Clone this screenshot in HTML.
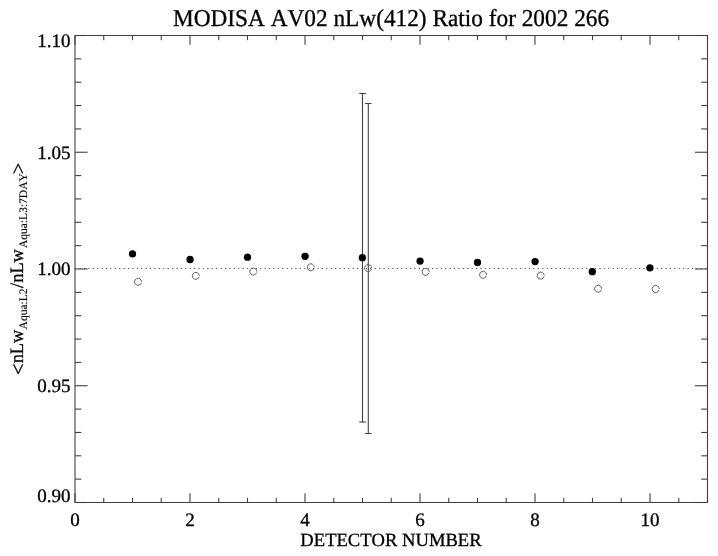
<!DOCTYPE html>
<html><head><meta charset="utf-8"><style>
html,body{margin:0;padding:0;background:#fff;}
body{width:718px;height:556px;overflow:hidden;font-family:"Liberation Serif",serif;}
svg{display:block;will-change:transform;}
text{font-kerning:none;font-feature-settings:"kern" 0;text-rendering:geometricPrecision;stroke:#000;stroke-width:0.3px;}
</style></head><body>
<svg width="718" height="556" viewBox="0 0 718 556">
<rect width="718" height="556" fill="#fff"/>
<line x1="75" y1="35.5" x2="708" y2="35.5" stroke="#404040" stroke-width="1.1"/>
<line x1="75" y1="502.5" x2="708" y2="502.5" stroke="#404040" stroke-width="1.1"/>
<line x1="75" y1="35.0" x2="75" y2="503.0" stroke="#404040" stroke-width="1.1"/>
<line x1="707.5" y1="35.0" x2="707.5" y2="503.0" stroke="#404040" stroke-width="1.1"/>
<line x1="75.0" y1="502.5" x2="75.0" y2="493.2" stroke="#404040" stroke-width="1.1"/>
<line x1="75.0" y1="35.5" x2="75.0" y2="44.8" stroke="#404040" stroke-width="1.1"/>
<line x1="103.75" y1="502.5" x2="103.75" y2="497.8" stroke="#404040" stroke-width="1.1"/>
<line x1="103.75" y1="35.5" x2="103.75" y2="40.2" stroke="#404040" stroke-width="1.1"/>
<line x1="132.5" y1="502.5" x2="132.5" y2="497.8" stroke="#404040" stroke-width="1.1"/>
<line x1="132.5" y1="35.5" x2="132.5" y2="40.2" stroke="#404040" stroke-width="1.1"/>
<line x1="161.25" y1="502.5" x2="161.25" y2="497.8" stroke="#404040" stroke-width="1.1"/>
<line x1="161.25" y1="35.5" x2="161.25" y2="40.2" stroke="#404040" stroke-width="1.1"/>
<line x1="190.0" y1="502.5" x2="190.0" y2="493.2" stroke="#404040" stroke-width="1.1"/>
<line x1="190.0" y1="35.5" x2="190.0" y2="44.8" stroke="#404040" stroke-width="1.1"/>
<line x1="218.75" y1="502.5" x2="218.75" y2="497.8" stroke="#404040" stroke-width="1.1"/>
<line x1="218.75" y1="35.5" x2="218.75" y2="40.2" stroke="#404040" stroke-width="1.1"/>
<line x1="247.5" y1="502.5" x2="247.5" y2="497.8" stroke="#404040" stroke-width="1.1"/>
<line x1="247.5" y1="35.5" x2="247.5" y2="40.2" stroke="#404040" stroke-width="1.1"/>
<line x1="276.25" y1="502.5" x2="276.25" y2="497.8" stroke="#404040" stroke-width="1.1"/>
<line x1="276.25" y1="35.5" x2="276.25" y2="40.2" stroke="#404040" stroke-width="1.1"/>
<line x1="305.0" y1="502.5" x2="305.0" y2="493.2" stroke="#404040" stroke-width="1.1"/>
<line x1="305.0" y1="35.5" x2="305.0" y2="44.8" stroke="#404040" stroke-width="1.1"/>
<line x1="333.75" y1="502.5" x2="333.75" y2="497.8" stroke="#404040" stroke-width="1.1"/>
<line x1="333.75" y1="35.5" x2="333.75" y2="40.2" stroke="#404040" stroke-width="1.1"/>
<line x1="362.5" y1="502.5" x2="362.5" y2="497.8" stroke="#404040" stroke-width="1.1"/>
<line x1="362.5" y1="35.5" x2="362.5" y2="40.2" stroke="#404040" stroke-width="1.1"/>
<line x1="391.25" y1="502.5" x2="391.25" y2="497.8" stroke="#404040" stroke-width="1.1"/>
<line x1="391.25" y1="35.5" x2="391.25" y2="40.2" stroke="#404040" stroke-width="1.1"/>
<line x1="420.0" y1="502.5" x2="420.0" y2="493.2" stroke="#404040" stroke-width="1.1"/>
<line x1="420.0" y1="35.5" x2="420.0" y2="44.8" stroke="#404040" stroke-width="1.1"/>
<line x1="448.75" y1="502.5" x2="448.75" y2="497.8" stroke="#404040" stroke-width="1.1"/>
<line x1="448.75" y1="35.5" x2="448.75" y2="40.2" stroke="#404040" stroke-width="1.1"/>
<line x1="477.5" y1="502.5" x2="477.5" y2="497.8" stroke="#404040" stroke-width="1.1"/>
<line x1="477.5" y1="35.5" x2="477.5" y2="40.2" stroke="#404040" stroke-width="1.1"/>
<line x1="506.25" y1="502.5" x2="506.25" y2="497.8" stroke="#404040" stroke-width="1.1"/>
<line x1="506.25" y1="35.5" x2="506.25" y2="40.2" stroke="#404040" stroke-width="1.1"/>
<line x1="535.0" y1="502.5" x2="535.0" y2="493.2" stroke="#404040" stroke-width="1.1"/>
<line x1="535.0" y1="35.5" x2="535.0" y2="44.8" stroke="#404040" stroke-width="1.1"/>
<line x1="563.75" y1="502.5" x2="563.75" y2="497.8" stroke="#404040" stroke-width="1.1"/>
<line x1="563.75" y1="35.5" x2="563.75" y2="40.2" stroke="#404040" stroke-width="1.1"/>
<line x1="592.5" y1="502.5" x2="592.5" y2="497.8" stroke="#404040" stroke-width="1.1"/>
<line x1="592.5" y1="35.5" x2="592.5" y2="40.2" stroke="#404040" stroke-width="1.1"/>
<line x1="621.25" y1="502.5" x2="621.25" y2="497.8" stroke="#404040" stroke-width="1.1"/>
<line x1="621.25" y1="35.5" x2="621.25" y2="40.2" stroke="#404040" stroke-width="1.1"/>
<line x1="650.0" y1="502.5" x2="650.0" y2="493.2" stroke="#404040" stroke-width="1.1"/>
<line x1="650.0" y1="35.5" x2="650.0" y2="44.8" stroke="#404040" stroke-width="1.1"/>
<line x1="678.75" y1="502.5" x2="678.75" y2="497.8" stroke="#404040" stroke-width="1.1"/>
<line x1="678.75" y1="35.5" x2="678.75" y2="40.2" stroke="#404040" stroke-width="1.1"/>
<line x1="707.5" y1="502.5" x2="707.5" y2="497.8" stroke="#404040" stroke-width="1.1"/>
<line x1="707.5" y1="35.5" x2="707.5" y2="40.2" stroke="#404040" stroke-width="1.1"/>
<line x1="75" y1="35.50" x2="87.6" y2="35.50" stroke="#404040" stroke-width="1.1"/>
<line x1="707.5" y1="35.50" x2="694.9" y2="35.50" stroke="#404040" stroke-width="1.1"/>
<line x1="75" y1="58.85" x2="81.3" y2="58.85" stroke="#404040" stroke-width="1.1"/>
<line x1="707.5" y1="58.85" x2="701.2" y2="58.85" stroke="#404040" stroke-width="1.1"/>
<line x1="75" y1="82.20" x2="81.3" y2="82.20" stroke="#404040" stroke-width="1.1"/>
<line x1="707.5" y1="82.20" x2="701.2" y2="82.20" stroke="#404040" stroke-width="1.1"/>
<line x1="75" y1="105.55" x2="81.3" y2="105.55" stroke="#404040" stroke-width="1.1"/>
<line x1="707.5" y1="105.55" x2="701.2" y2="105.55" stroke="#404040" stroke-width="1.1"/>
<line x1="75" y1="128.90" x2="81.3" y2="128.90" stroke="#404040" stroke-width="1.1"/>
<line x1="707.5" y1="128.90" x2="701.2" y2="128.90" stroke="#404040" stroke-width="1.1"/>
<line x1="75" y1="152.25" x2="87.6" y2="152.25" stroke="#404040" stroke-width="1.1"/>
<line x1="707.5" y1="152.25" x2="694.9" y2="152.25" stroke="#404040" stroke-width="1.1"/>
<line x1="75" y1="175.60" x2="81.3" y2="175.60" stroke="#404040" stroke-width="1.1"/>
<line x1="707.5" y1="175.60" x2="701.2" y2="175.60" stroke="#404040" stroke-width="1.1"/>
<line x1="75" y1="198.95" x2="81.3" y2="198.95" stroke="#404040" stroke-width="1.1"/>
<line x1="707.5" y1="198.95" x2="701.2" y2="198.95" stroke="#404040" stroke-width="1.1"/>
<line x1="75" y1="222.30" x2="81.3" y2="222.30" stroke="#404040" stroke-width="1.1"/>
<line x1="707.5" y1="222.30" x2="701.2" y2="222.30" stroke="#404040" stroke-width="1.1"/>
<line x1="75" y1="245.65" x2="81.3" y2="245.65" stroke="#404040" stroke-width="1.1"/>
<line x1="707.5" y1="245.65" x2="701.2" y2="245.65" stroke="#404040" stroke-width="1.1"/>
<line x1="75" y1="269.00" x2="87.6" y2="269.00" stroke="#404040" stroke-width="1.1"/>
<line x1="707.5" y1="269.00" x2="694.9" y2="269.00" stroke="#404040" stroke-width="1.1"/>
<line x1="75" y1="292.35" x2="81.3" y2="292.35" stroke="#404040" stroke-width="1.1"/>
<line x1="707.5" y1="292.35" x2="701.2" y2="292.35" stroke="#404040" stroke-width="1.1"/>
<line x1="75" y1="315.70" x2="81.3" y2="315.70" stroke="#404040" stroke-width="1.1"/>
<line x1="707.5" y1="315.70" x2="701.2" y2="315.70" stroke="#404040" stroke-width="1.1"/>
<line x1="75" y1="339.05" x2="81.3" y2="339.05" stroke="#404040" stroke-width="1.1"/>
<line x1="707.5" y1="339.05" x2="701.2" y2="339.05" stroke="#404040" stroke-width="1.1"/>
<line x1="75" y1="362.40" x2="81.3" y2="362.40" stroke="#404040" stroke-width="1.1"/>
<line x1="707.5" y1="362.40" x2="701.2" y2="362.40" stroke="#404040" stroke-width="1.1"/>
<line x1="75" y1="385.75" x2="87.6" y2="385.75" stroke="#404040" stroke-width="1.1"/>
<line x1="707.5" y1="385.75" x2="694.9" y2="385.75" stroke="#404040" stroke-width="1.1"/>
<line x1="75" y1="409.10" x2="81.3" y2="409.10" stroke="#404040" stroke-width="1.1"/>
<line x1="707.5" y1="409.10" x2="701.2" y2="409.10" stroke="#404040" stroke-width="1.1"/>
<line x1="75" y1="432.45" x2="81.3" y2="432.45" stroke="#404040" stroke-width="1.1"/>
<line x1="707.5" y1="432.45" x2="701.2" y2="432.45" stroke="#404040" stroke-width="1.1"/>
<line x1="75" y1="455.80" x2="81.3" y2="455.80" stroke="#404040" stroke-width="1.1"/>
<line x1="707.5" y1="455.80" x2="701.2" y2="455.80" stroke="#404040" stroke-width="1.1"/>
<line x1="75" y1="479.15" x2="81.3" y2="479.15" stroke="#404040" stroke-width="1.1"/>
<line x1="707.5" y1="479.15" x2="701.2" y2="479.15" stroke="#404040" stroke-width="1.1"/>
<line x1="75" y1="502.50" x2="87.6" y2="502.50" stroke="#404040" stroke-width="1.1"/>
<line x1="707.5" y1="502.50" x2="694.9" y2="502.50" stroke="#404040" stroke-width="1.1"/>
<line x1="75.076" y1="268.5" x2="707" y2="268.5" stroke="#505050" stroke-width="1" stroke-dasharray="1.2 3.206"/>
<line x1="362.5" y1="93.5" x2="362.5" y2="422.0" stroke="#404040" stroke-width="1.1"/>
<line x1="359.2" y1="93.5" x2="365.8" y2="93.5" stroke="#404040" stroke-width="1.1"/>
<line x1="359.2" y1="422.0" x2="365.8" y2="422.0" stroke="#404040" stroke-width="1.1"/>
<line x1="368.3" y1="103.5" x2="368.3" y2="433.5" stroke="#404040" stroke-width="1.1"/>
<line x1="365.05" y1="103.5" x2="371.55" y2="103.5" stroke="#404040" stroke-width="1.1"/>
<line x1="365.05" y1="433.5" x2="371.55" y2="433.5" stroke="#404040" stroke-width="1.1"/>
<circle cx="132.5" cy="253.9" r="3.65" fill="#000"/>
<circle cx="190.07" cy="259.5" r="3.65" fill="#000"/>
<circle cx="247.5" cy="257.2" r="3.65" fill="#000"/>
<circle cx="305.07" cy="256.35" r="3.65" fill="#000"/>
<circle cx="362.36" cy="257.67" r="3.65" fill="#000"/>
<circle cx="420.07" cy="261.1" r="3.65" fill="#000"/>
<circle cx="477.5" cy="262.5" r="3.65" fill="#000"/>
<circle cx="535.07" cy="261.6" r="3.65" fill="#000"/>
<circle cx="592.3" cy="271.7" r="3.65" fill="#000"/>
<circle cx="649.9" cy="267.8" r="3.65" fill="#000"/>
<path d="M141.42,282.76 A3.5,3.5 0 1 1 141.56,281.74" fill="none" stroke="#555" stroke-width="0.95"/>
<path d="M199.16,276.86 A3.5,3.5 0 1 1 199.30,275.84" fill="none" stroke="#555" stroke-width="0.95"/>
<path d="M256.61,272.56 A3.5,3.5 0 1 1 256.75,271.54" fill="none" stroke="#555" stroke-width="0.95"/>
<path d="M314.16,268.26 A3.5,3.5 0 1 1 314.30,267.24" fill="none" stroke="#555" stroke-width="0.95"/>
<path d="M371.46,269.06 A3.5,3.5 0 1 1 371.60,268.04" fill="none" stroke="#555" stroke-width="0.95"/>
<path d="M429.01,272.82 A3.5,3.5 0 1 1 429.15,271.80" fill="none" stroke="#555" stroke-width="0.95"/>
<path d="M486.46,275.76 A3.5,3.5 0 1 1 486.60,274.74" fill="none" stroke="#555" stroke-width="0.95"/>
<path d="M544.01,276.56 A3.5,3.5 0 1 1 544.15,275.54" fill="none" stroke="#555" stroke-width="0.95"/>
<path d="M601.46,289.76 A3.5,3.5 0 1 1 601.60,288.74" fill="none" stroke="#555" stroke-width="0.95"/>
<path d="M659.01,289.96 A3.5,3.5 0 1 1 659.15,288.94" fill="none" stroke="#555" stroke-width="0.95"/>
<text transform="translate(391,26.1) scale(1,1.04)" x="0" y="0" font-family="Liberation Serif" font-size="23.3" text-anchor="middle">MODISA AV02 nLw(412) Ratio for 2002 266</text>
<text x="70.5" y="46.8" font-family="Liberation Serif" font-size="19" text-anchor="end">1.10</text>
<text x="70.5" y="158.6" font-family="Liberation Serif" font-size="19" text-anchor="end">1.05</text>
<text x="70.5" y="275" font-family="Liberation Serif" font-size="19" text-anchor="end">1.00</text>
<text x="70.5" y="392.2" font-family="Liberation Serif" font-size="19" text-anchor="end">0.95</text>
<text x="70.5" y="502.2" font-family="Liberation Serif" font-size="19" text-anchor="end">0.90</text>
<text x="75.0" y="525.5" font-family="Liberation Serif" font-size="19" text-anchor="middle">0</text>
<text x="190.0" y="525.5" font-family="Liberation Serif" font-size="19" text-anchor="middle">2</text>
<text x="305.0" y="525.5" font-family="Liberation Serif" font-size="19" text-anchor="middle">4</text>
<text x="420.0" y="525.5" font-family="Liberation Serif" font-size="19" text-anchor="middle">6</text>
<text x="535.0" y="525.5" font-family="Liberation Serif" font-size="19" text-anchor="middle">8</text>
<text x="650.0" y="525.5" font-family="Liberation Serif" font-size="19" text-anchor="middle">10</text>
<text x="391" y="546" font-family="Liberation Serif" font-size="18.6" text-anchor="middle">DETECTOR NUMBER</text>
<text class="m" transform="translate(25.0,375.00) rotate(-90)" font-family="Liberation Serif" font-size="20.5">&lt;</text>
<text class="m" transform="translate(22.8,363.30) rotate(-90)" font-family="Liberation Serif" font-size="19.0" textLength="33.60" lengthAdjust="spacingAndGlyphs">nLw</text>
<text class="m" transform="translate(27.2,329.40) rotate(-90)" font-family="Liberation Serif" font-size="11.5" style="stroke-width:0.12px">Aqua:L2</text>
<text class="m" transform="translate(22.8,287.90) rotate(-90)" font-family="Liberation Serif" font-size="19.0" textLength="38.80" lengthAdjust="spacingAndGlyphs">/nLw</text>
<text class="m" transform="translate(27.2,248.00) rotate(-90)" font-family="Liberation Serif" font-size="11.5" style="stroke-width:0.12px">Aqua:L3:7DAY</text>
<text class="m" transform="translate(25.0,174.30) rotate(-90)" font-family="Liberation Serif" font-size="20.5">&gt;</text>
</svg>
</body></html>
